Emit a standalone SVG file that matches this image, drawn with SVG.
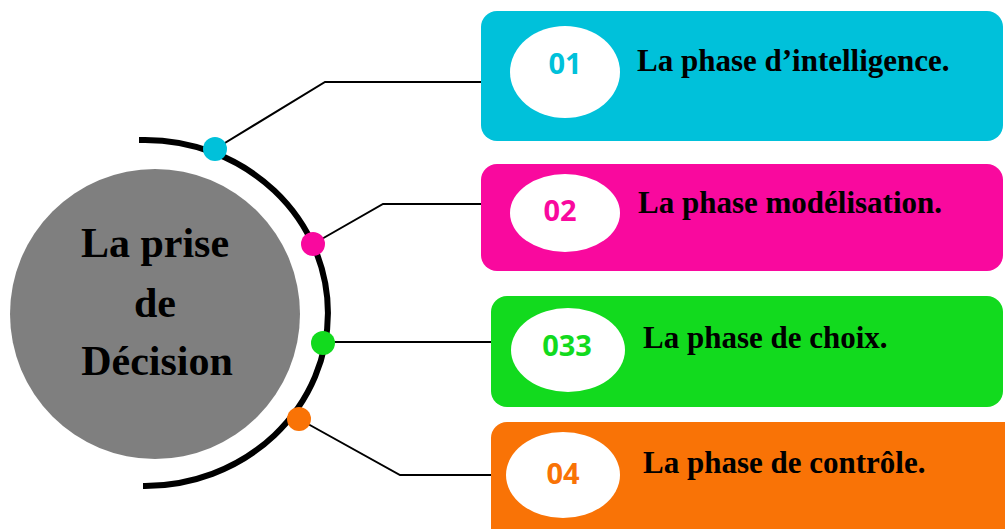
<svg xmlns="http://www.w3.org/2000/svg" width="1005" height="529" viewBox="0 0 1005 529">
<style>
.lbl{font-family:"Liberation Serif","Times New Roman",serif;font-weight:bold;font-size:31px;fill:#000}
.num{font-family:"Open Sans","Noto Sans",sans-serif;font-weight:bold;font-size:29px;text-anchor:middle;dominant-baseline:central}
.ctr{font-family:"Liberation Serif","Times New Roman",serif;font-weight:bold;font-size:42px;fill:#000;text-anchor:middle}
.conn{fill:none;stroke:#000;stroke-width:2}
</style>
<rect width="1005" height="529" fill="#fff"/>
<g id="center">
<circle cx="155" cy="314" r="145" fill="#7f7f7f"/>
<text class="ctr" x="155" y="257">La prise</text>
<text class="ctr" x="155" y="317">de</text>
<text class="ctr" x="157" y="375">Décision</text>
</g>
<g id="connectors">
<path d="M139 140 L145 140 A183 173 0 0 1 145 486 L143 486" fill="none" stroke="#000" stroke-width="6"/>
<polyline class="conn" points="215,149 325,82 482,82"/>
<polyline class="conn" points="313,244 383,204 482,204"/>
<polyline class="conn" points="323,342 492,342"/>
<polyline class="conn" points="299,419 400,475 492,475"/>
<circle cx="215" cy="149" r="12" fill="#00c1da"/>
<circle cx="313" cy="244" r="12" fill="#f9099e"/>
<circle cx="323" cy="343" r="12" fill="#12da1e"/>
<circle cx="299" cy="419" r="12" fill="#f97306"/>
</g>
<g id="phase1">
<rect x="481" y="11" width="522" height="130" rx="16" fill="#00c1da"/>
<ellipse cx="565" cy="72" rx="55" ry="46" fill="#fff"/>
<text class="num" x="565" y="62" fill="#00c1da">01</text>
<text class="lbl" x="637" y="71">La phase d’intelligence.</text>
</g>
<g id="phase2">
<rect x="481" y="164" width="522" height="107" rx="16" fill="#f9099e"/>
<ellipse cx="565" cy="213" rx="55" ry="39" fill="#fff"/>
<text class="num" x="560" y="209" fill="#f9099e">02</text>
<text class="lbl" x="638" y="213">La phase modélisation.</text>
</g>
<g id="phase3">
<rect x="491" y="296" width="512" height="111" rx="16" fill="#12da1e"/>
<ellipse cx="568" cy="350" rx="57" ry="42" fill="#fff"/>
<text class="num" x="567" y="344" fill="#12da1e">033</text>
<text class="lbl" x="643" y="348">La phase de choix.</text>
</g>
<g id="phase4">
<rect x="491" y="422" width="530" height="130" rx="16" fill="#f97306"/>
<ellipse cx="563" cy="475" rx="57" ry="43" fill="#fff"/>
<text class="num" x="563" y="472" fill="#f97306">04</text>
<text class="lbl" x="643" y="473">La phase de contrôle.</text>
</g>
</svg>
